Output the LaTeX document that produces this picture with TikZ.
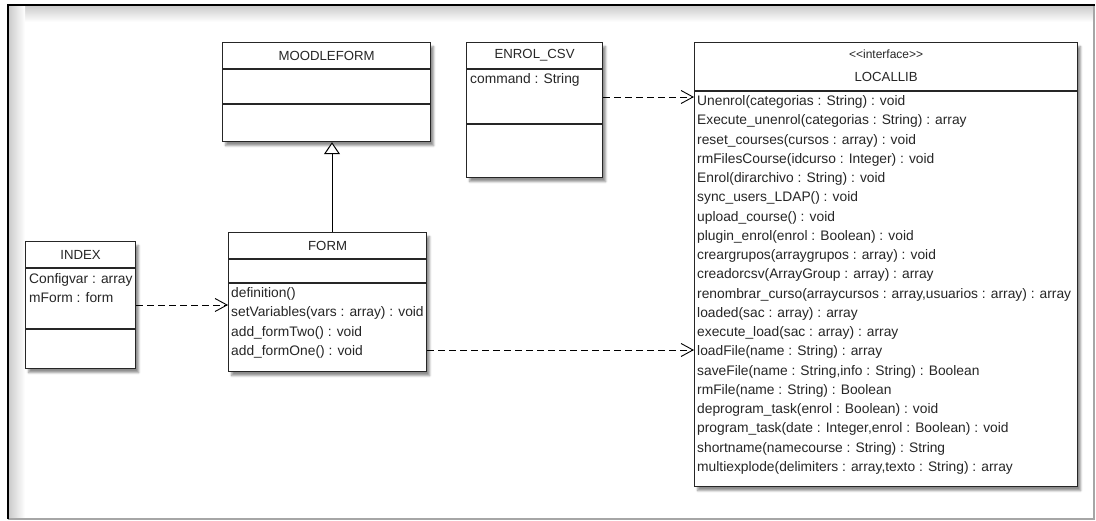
\documentclass[tikz,border=0pt]{standalone}
\usepackage{fontspec}
\setmainfont{Liberation Sans}
\usetikzlibrary{arrows.meta,shadows.blur}

\tikzset{
  umlbox/.style={draw=black!85, line width=1.2pt, fill=white, anchor=north west,
    inner sep=0pt, blur shadow={shadow xshift=3pt, shadow yshift=-4pt,
    shadow blur steps=6, shadow opacity=45}},
  compline/.style={draw=black!85, line width=1.1pt},
  member/.style={anchor=west, inner sep=0pt, text=black!85,
    font=\fontsize{13.8}{16}\selectfont, text height=0.75em, text depth=0.25em},
  umltitle/.style={inner sep=0pt, text=black!85, font=\fontsize{13.2}{16}\selectfont},
  depend/.style={dash pattern=on 7pt off 4pt, line width=0.9pt,
    -{Straight Barb[length=12pt,width=13pt]}},
  inherit/.style={line width=1pt, -{Triangle[open,length=12pt,width=16pt,fill=white]}}
}

\begin{document}
\begin{tikzpicture}[x=1pt, y=-1pt]
  \useasboundingbox (0,0) rectangle (1096,521);

  % frame
  \shade[top color=gray!40, bottom color=white] (9,6) rectangle (1093,22);
  \shade[left color=gray!40, right color=white] (9,6) rectangle (25,518);
  \draw[gray!70, line width=1.2pt] (1094,5) -- (1094,519) -- (8,519);
  \draw[line width=2.5pt] (8,519) -- (8,5) -- (1095,5);

  % MOODLEFORM
  \node[umlbox, minimum width=208pt, minimum height=99pt] (moodleform) at (222,42) {};
  \draw[compline] (moodleform.west |- 0,69) -- (moodleform.east |- 0,69);
  \draw[compline] (moodleform.west |- 0,104) -- (moodleform.east |- 0,104);
  \node[umltitle] (moodleform-name) at (moodleform.north |- 0,55.5) {MOODLEFORM};

  % ENROL_CSV
  \node[umlbox, minimum width=136pt, minimum height=135pt] (enrolcsv) at (466,42) {};
  \draw[compline] (enrolcsv.west |- 0,69) -- (enrolcsv.east |- 0,69);
  \draw[compline] (enrolcsv.west |- 0,124) -- (enrolcsv.east |- 0,124);
  \node[umltitle] (enrolcsv-name) at (enrolcsv.north |- 0,55.5) {ENROL\_CSV};
  \node[member] (enrolcsv-cmd) at (470,81) {command : String};

  % INDEX
  \node[umlbox, minimum width=110pt, minimum height=127pt] (index) at (25,241) {};
  \draw[compline] (index.west |- 0,268) -- (index.east |- 0,268);
  \draw[compline] (index.west |- 0,329) -- (index.east |- 0,329);
  \node[umltitle] (index-name) at (index.north |- 0,254.5) {INDEX};
  \node[member] (index-conf) at (29,281) {Configvar : array};
  \node[member] (index-form) at (29,300) {mForm : form};

  % FORM
  \node[umlbox, minimum width=198pt, minimum height=139pt] (form) at (228,232) {};
  \draw[compline] (form.west |- 0,259) -- (form.east |- 0,259);
  \draw[compline] (form.west |- 0,283) -- (form.east |- 0,283);
  \node[umltitle] (form-name) at (form.north |- 0,245.5) {FORM};
  \node[member] (form-def) at (231,295) {definition()};
  \node[member] (form-set) at (231,314.5) {setVariables(vars : array) : void};
  \node[member] (form-two) at (231,334) {add\_formTwo() : void};
  \node[member] (form-one) at (231,353) {add\_formOne() : void};

  % LOCALLIB
  \node[umlbox, minimum width=383pt, minimum height=444pt] (locallib) at (694,42) {};
  \draw[compline] (locallib.west |- 0,91) -- (locallib.east |- 0,91);
  \node[umltitle, font=\fontsize{12}{14}\selectfont] (locallib-stereo) at (locallib.north |- 0,54) {<{}<interface>{}>};
  \node[umltitle] (locallib-name) at (locallib.north |- 0,76.5) {LOCALLIB};
  \foreach \op [count=\i from 0] in {
      {Unenrol(categorias : String) : void},
      {Execute\_unenrol(categorias : String) : array},
      {reset\_courses(cursos : array) : void},
      {rmFilesCourse(idcurso : Integer) : void},
      {Enrol(dirarchivo : String) : void},
      {sync\_users\_LDAP() : void},
      {upload\_course() : void},
      {plugin\_enrol(enrol : Boolean) : void},
      {creargrupos(arraygrupos : array) : void},
      {creadorcsv(ArrayGroup : array) : array},
      {renombrar\_curso(arraycursos : array,usuarios : array) : array},
      {loaded(sac : array) : array},
      {execute\_load(sac : array) : array},
      {loadFile(name : String) : array},
      {saveFile(name : String,info : String) : Boolean},
      {rmFile(name : String) : Boolean},
      {deprogram\_task(enrol : Boolean) : void},
      {program\_task(date : Integer,enrol : Boolean) : void},
      {shortname(namecourse : String) : String},
      {multiexplode(delimiters : array,texto : String) : array}}
    \node[member] (op-\i) at (697,103+\i*19.26) {\op};

  % relations
  \draw[inherit] (form.north -| 332,0) -- (moodleform.south -| 332,0);
  \draw[depend] (index.east |- 0,305) -- (form.west |- 0,305);
  \draw[depend] (enrolcsv.east |- 0,97) -- (locallib.west |- 0,97);
  \draw[depend] (form.east |- 0,350) -- (locallib.west |- 0,350);
\end{tikzpicture}
\end{document}
